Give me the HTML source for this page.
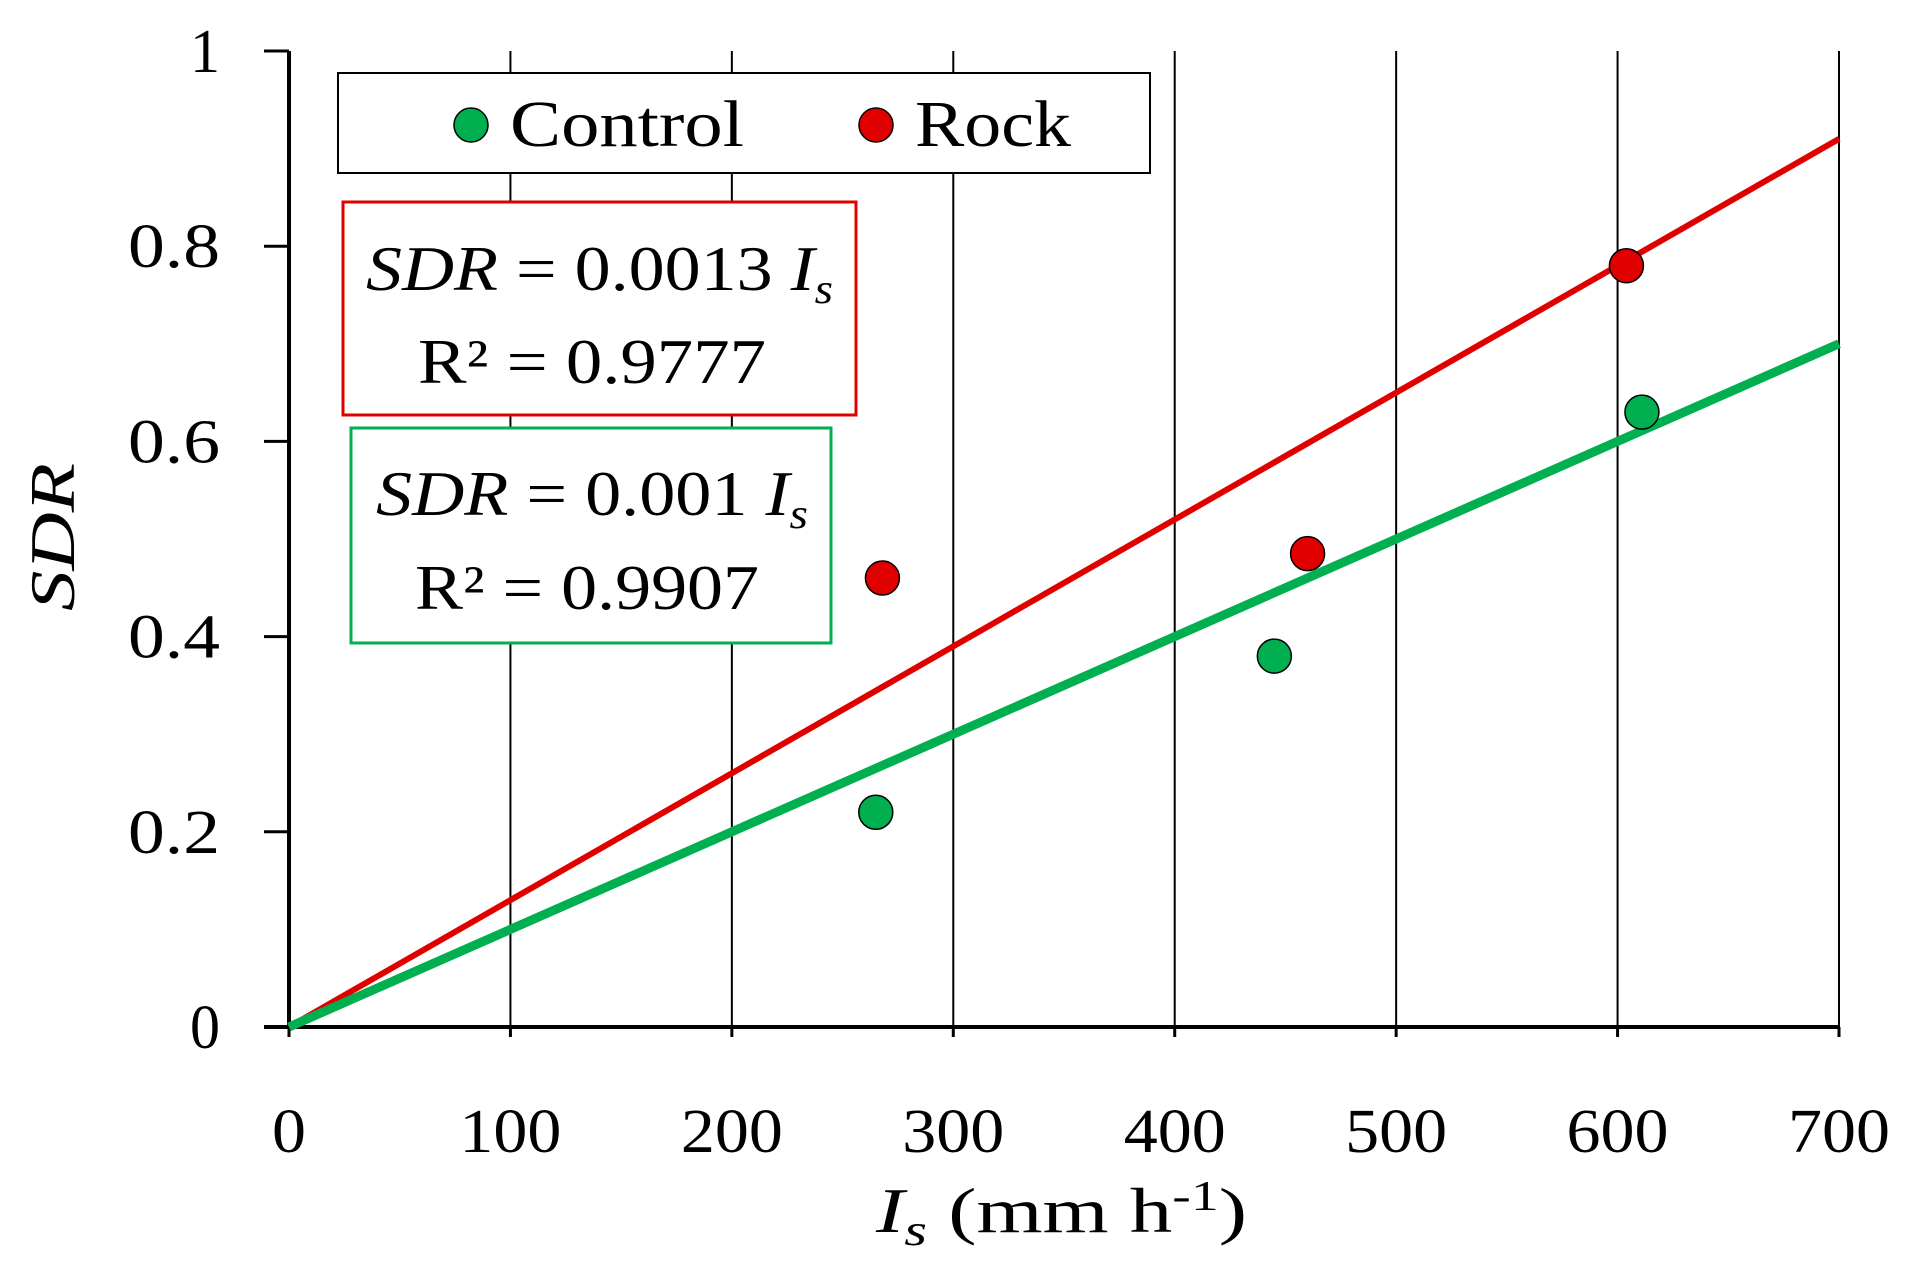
<!DOCTYPE html>
<html><head><meta charset="utf-8"><style>
body{margin:0;background:#fff}
svg{display:block;font-family:"Liberation Serif",serif}
</style></head><body>
<svg id="chart" width="1913" height="1278" viewBox="0 0 1913 1278">
<g id="grid"></g>
<g id="axes"></g>
<g id="lines"></g>
<g id="points"></g>
<text x="74" y="537" font-size="64" font-style="italic" text-anchor="middle" textLength="148" lengthAdjust="spacingAndGlyphs" transform="rotate(-90 74 537)">SDR</text>
<text x="876" y="1232" font-size="64" textLength="371" lengthAdjust="spacingAndGlyphs"><tspan font-style="italic">I</tspan><tspan font-style="italic" font-size="44" dy="13">s</tspan><tspan dy="-13"> (mm h</tspan><tspan font-size="42" dy="-22">-1</tspan><tspan dy="22">)</tspan></text>
<g>
<rect x="338" y="73" width="812" height="100" fill="#fff" stroke="#000" stroke-width="2"/>
<circle cx="471" cy="125" r="17" fill="#00b050" stroke="#000" stroke-width="1.5"/>
<text x="510" y="146" font-size="66" textLength="234" lengthAdjust="spacingAndGlyphs">Control</text>
<circle cx="876" cy="125" r="17" fill="#e00000" stroke="#000" stroke-width="1.5"/>
<text x="915" y="146" font-size="66" textLength="156" lengthAdjust="spacingAndGlyphs">Rock</text>
</g>
<g>
<rect x="343" y="202" width="513" height="213" fill="#fff" stroke="#e00000" stroke-width="3"/>
<text x="366" y="290" font-size="64" textLength="467" lengthAdjust="spacingAndGlyphs"><tspan font-style="italic">SDR</tspan> = 0.0013 <tspan font-style="italic">I</tspan><tspan font-style="italic" font-size="42" dy="13">s</tspan></text>
<text x="418" y="383" font-size="64" textLength="348" lengthAdjust="spacingAndGlyphs">R² = 0.9777</text>
</g>
<g>
<rect x="351" y="428" width="480" height="215" fill="#fff" stroke="#00b050" stroke-width="3"/>
<text x="376" y="515" font-size="64" textLength="432" lengthAdjust="spacingAndGlyphs"><tspan font-style="italic">SDR</tspan> = 0.001 <tspan font-style="italic">I</tspan><tspan font-style="italic" font-size="42" dy="13">s</tspan></text>
<text x="415" y="609" font-size="64" textLength="344" lengthAdjust="spacingAndGlyphs">R² = 0.9907</text>
</g>
</svg>
<script>
const xTicks=[0,100,200,300,400,500,600,700];
const yTicks=[0,0.2,0.4,0.6,0.8,1];
const yTickLabels=["0","0.2","0.4","0.6","0.8","1"];
const controlX=[265,445,611];
const controlY=[0.22,0.38,0.63];
const rockX=[268,460,604];
const rockY=[0.46,0.485,0.78];
const controlSlope=0.001;
const rockSlope=0.0013;
const X0=289,X1=1839,Y0=1027,Y1=51;
const sx=v=>X0+(v-0)/(700-0)*(X1-X0);
const sy=v=>Y0-(v-0)/(1-0)*(Y0-Y1);
const NS="http://www.w3.org/2000/svg";
function mk(parent,tag,attrs){const e=document.createElementNS(NS,tag);for(const k in attrs)e.setAttribute(k,attrs[k]);document.getElementById(parent).appendChild(e);return e;}
xTicks.forEach(t=>{
 if(t>0){const l=mk('grid','line',{x1:sx(t),x2:sx(t),y1:sy(1),y2:sy(0),stroke:'#000','stroke-width':2});
 
 }
 const tk=mk('axes','line',{x1:sx(t),x2:sx(t),y1:sy(0),y2:sy(0)+10,stroke:'#000','stroke-width':3});
 
 
 const s=String(t);
 const tx=mk('axes','text',{x:sx(t),y:1152,'font-size':62,'text-anchor':'middle',textLength:s.length*34,lengthAdjust:'spacingAndGlyphs'});tx.textContent=s;
 
 
});
yTicks.forEach((t,i)=>{
 const tk=mk('axes','line',{x1:sx(0)-25,x2:sx(0),y1:sy(t),y2:sy(t),stroke:'#000','stroke-width':3});
 
 
 const s=yTickLabels[i];
 const tx=mk('axes','text',{x:220,y:sy(t)+21,'font-size':62,'text-anchor':'end',textLength:s.length>1?92:30,lengthAdjust:'spacingAndGlyphs'});tx.textContent=s;
 
 
});
const ya=mk('axes','line',{x1:sx(0),x2:sx(0),y1:sy(1),y2:sy(0),stroke:'#000','stroke-width':4});


const xa=mk('axes','line',{x1:sx(0)-25,x2:sx(700),y1:sy(0),y2:sy(0),stroke:'#000','stroke-width':4});


const rl=mk('lines','line',{x1:sx(0),y1:sy(0),x2:sx(700),y2:sy(rockSlope*700),stroke:'#e00000','stroke-width':6});


const cl=mk('lines','line',{x1:sx(0),y1:sy(0),x2:sx(700),y2:sy(controlSlope*700),stroke:'#00b050','stroke-width':9});


controlX.forEach((x,i)=>{const c=mk('points','circle',{cx:sx(x),cy:sy(controlY[i]),r:17,fill:'#00b050',stroke:'#000','stroke-width':1.5});
 
 });
rockX.forEach((x,i)=>{const c=mk('points','circle',{cx:sx(x),cy:sy(rockY[i]),r:17,fill:'#e00000',stroke:'#000','stroke-width':1.5});
 
 });
</script>
</body></html>
